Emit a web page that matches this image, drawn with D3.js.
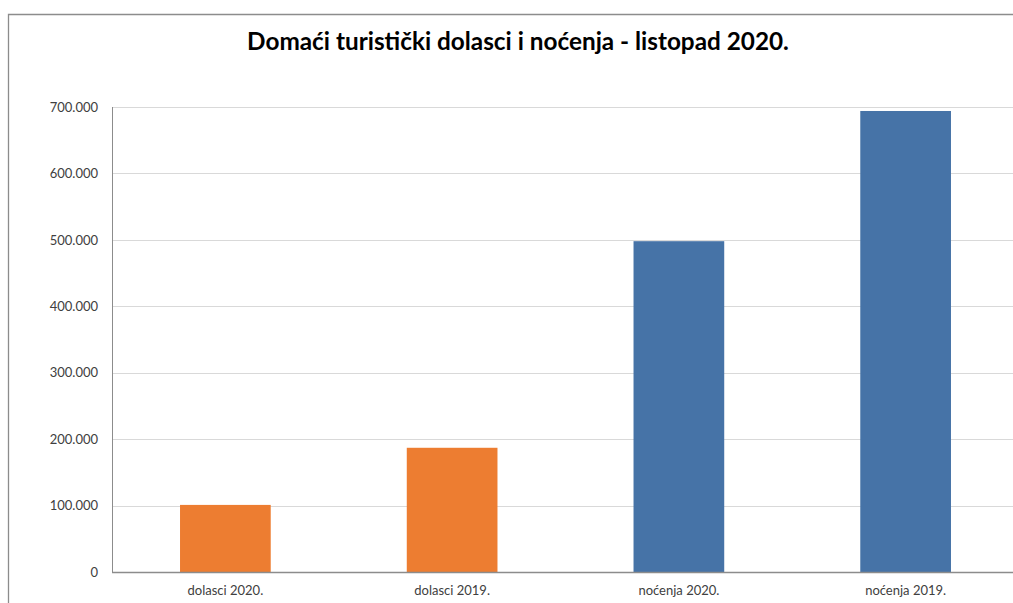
<!DOCTYPE html>
<html><head><meta charset="utf-8">
<script src="https://cdn.jsdelivr.net/npm/d3@7"></script>
<style>html,body{margin:0;padding:0;background:#fff;overflow:hidden}svg{display:block}</style>
</head><body>
<svg id="c" width="1013" height="603"></svg>
<script>
const title = "Domaći turistički dolasci i noćenja - listopad 2020.";
const categories = ["dolasci 2020.", "dolasci 2019.", "noćenja 2020.", "noćenja 2019."];
const values = [101000, 187000, 498000, 694000];
const groups = ["dolasci", "dolasci", "noćenja", "noćenja"];
const yTicks = [0, 100000, 200000, 300000, 400000, 500000, 600000, 700000];

const svg = d3.select("#c");
const W = 1013, H = 603;
const m = {left: 112, top: 107, right: 1019, bottom: 572};

// outer chart border (cropped on right/bottom)
svg.append("path")
  .attr("d", `M8.5,${H + 2} L8.5,14.5 L${W + 2},14.5`)
  .attr("fill", "none").attr("stroke", "#8c8c8c").attr("stroke-width", 1.3);

const x = d3.scaleBand().domain(categories).range([m.left, m.right]).paddingInner(0.6).paddingOuter(0.3);
const y = d3.scaleLinear().domain([0, 700000]).range([m.bottom, m.top]);
const color = d3.scaleOrdinal().domain(["dolasci", "noćenja"]).range(["#ed7d31", "#4673a7"]);
const loc = d3.formatLocale({decimal: ",", thousands: ".", grouping: [3], currency: ["", ""]});
const fmt = loc.format(",d");

// gridlines
svg.append("g").selectAll("line").data(yTicks.filter(d => d > 0)).join("line")
  .attr("x1", m.left).attr("x2", W + 2)
  .attr("y1", d => Math.round(y(d)) + 0.5).attr("y2", d => Math.round(y(d)) + 0.5)
  .attr("stroke", "#d9d9d9").attr("stroke-width", 1);

// y axis
const yAxis = svg.append("g").attr("transform", `translate(${m.left},0)`)
  .call(d3.axisLeft(y).tickValues(yTicks).tickFormat(fmt).tickSize(0).tickPadding(14));
yAxis.select(".domain").attr("stroke", "#8c8c8c").attr("d", `M0.5,${m.top}V${m.bottom}`);
yAxis.selectAll("text").attr("font-family", "Lato, 'Open Sans', sans-serif").attr("font-size", 13).attr("fill", "#404040");

// bars
svg.append("g").selectAll("rect").data(categories).join("rect")
  .attr("x", d => x(d)).attr("width", x.bandwidth())
  .attr("y", (d, i) => y(values[i])).attr("height", (d, i) => y(0) - y(values[i]))
  .attr("fill", (d, i) => color(groups[i]));

// x axis
const xAxis = svg.append("g").attr("transform", `translate(0,${m.bottom})`)
  .call(d3.axisBottom(x).tickSize(0).tickPadding(14));
xAxis.select(".domain").attr("stroke", "#8c8c8c").attr("stroke-width", 1.3).attr("d", `M${m.left},0.5H${W + 2}`);
xAxis.selectAll("text").attr("font-family", "Lato, 'Open Sans', sans-serif").attr("font-size", 13).attr("fill", "#404040");

// title
const t = svg.append("text").attr("x", 518).attr("y", 50).attr("text-anchor", "middle")
  .attr("font-family", "Lato, 'Open Sans', sans-serif").attr("font-weight", "bold")
  .attr("font-size", 24).attr("fill", "#000").text(title);
const tw = t.node().getComputedTextLength();
t.attr("font-size", 24 * 542 / tw);
</script>
</body></html>
